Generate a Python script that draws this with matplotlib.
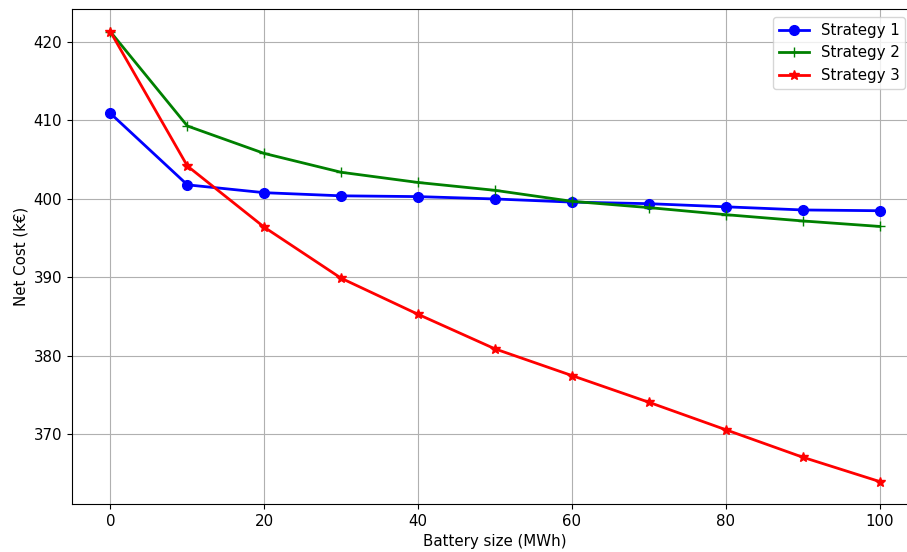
import numpy as np
import matplotlib
matplotlib.use("Agg")
import matplotlib.pyplot as plt

battery = [0, 10, 20, 30, 40, 50, 60, 70, 80, 90, 100]
strategy1 = [410.9, 401.8, 400.8, 400.4, 400.3, 400.0, 399.6, 399.4, 399.0, 398.6, 398.5]
strategy2 = [421.3, 409.3, 405.8, 403.4, 402.1, 401.1, 399.7, 398.9, 398.0, 397.2, 396.5]
strategy3 = [421.3, 404.2, 396.4, 389.9, 385.3, 380.9, 377.5, 374.1, 370.6, 367.1, 364.0]

plt.rcParams['font.size'] = 10.8

fig = plt.figure(figsize=(9.07, 5.52), dpi=100)
# axes runs slightly past the right edge, like the cropped original
ax = fig.add_axes([72/907, 48/552, 846/907, 494.7/552])
ax.plot(battery, strategy1, color='b', marker='o', lw=2, ms=7, label='Strategy 1')
ax.plot(battery, strategy2, color='g', marker='+', lw=2, ms=7, label='Strategy 2')
ax.plot(battery, strategy3, color='r', marker='*', lw=2, ms=7, label='Strategy 3')
ax.spines['right'].set_visible(False)
ax.grid(True)
ax.set_xlabel("Battery size (MWh)")
ax.set_ylabel("Net Cost (k€)")
ax.legend(loc='upper right', bbox_to_anchor=(0.994, 1.0))
fig.savefig("out.png", dpi=100)
plt.close()
